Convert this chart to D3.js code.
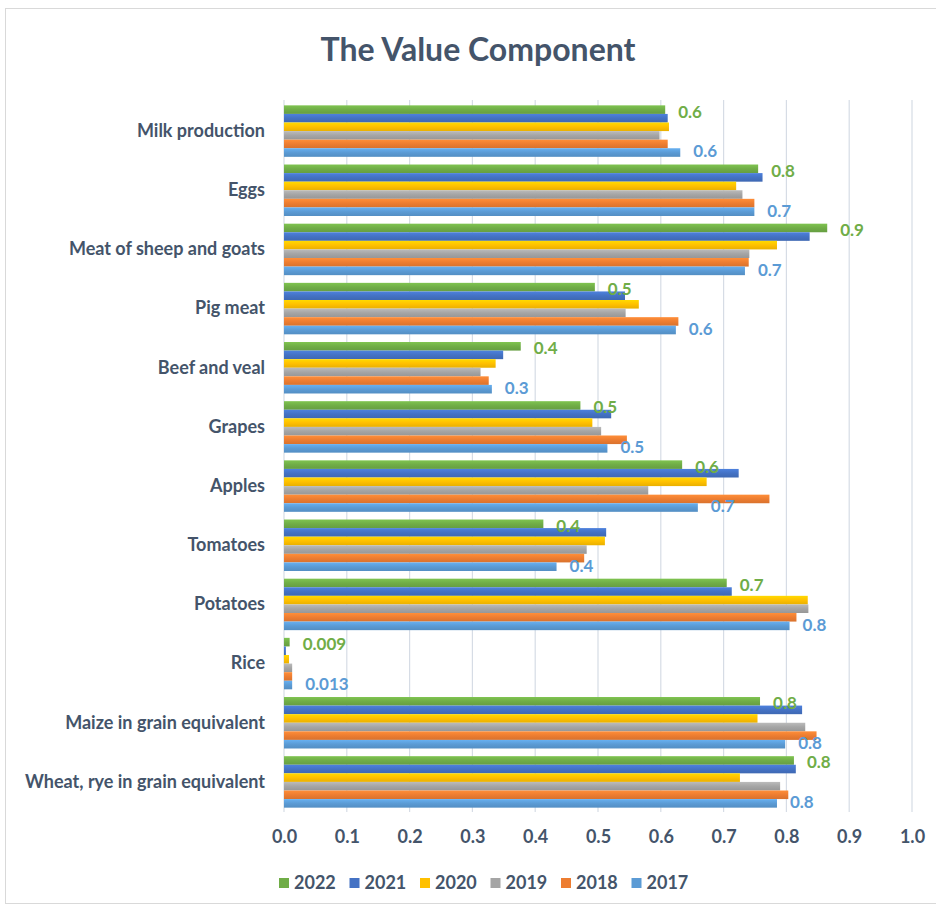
<!DOCTYPE html>
<html>
<head>
<meta charset="utf-8">
<script src="https://cdn.jsdelivr.net/npm/d3@7"></script>
<style>
  html, body { margin: 0; padding: 0; background: #fff; }
  svg { display: block; font-family: Lato, "Open Sans", sans-serif; }
</style>
</head>
<body>
<svg id="chart" width="936" height="910"></svg>
<script>
// Product categories, top to bottom
const categories = [
  "Milk production", "Eggs", "Meat of sheep and goats", "Pig meat",
  "Beef and veal", "Grapes", "Apples", "Tomatoes", "Potatoes", "Rice",
  "Maize in grain equivalent", "Wheat, rye in grain equivalent"
];

// Series order inside each group (top bar first) and legend order
const years = ["2022", "2021", "2020", "2019", "2018", "2017"];

const values2022 = [0.607, 0.755, 0.865, 0.495, 0.377, 0.472, 0.634, 0.413, 0.705, 0.009, 0.758, 0.812];
const values2021 = [0.611, 0.762, 0.837, 0.543, 0.349, 0.521, 0.724, 0.513, 0.713, 0.003, 0.825, 0.815];
const values2020 = [0.613, 0.720, 0.785, 0.565, 0.337, 0.491, 0.673, 0.511, 0.834, 0.008, 0.754, 0.726];
const values2019 = [0.598, 0.730, 0.741, 0.544, 0.313, 0.505, 0.580, 0.482, 0.835, 0.013, 0.830, 0.790];
const values2018 = [0.611, 0.749, 0.740, 0.628, 0.326, 0.546, 0.773, 0.478, 0.816, 0.013, 0.848, 0.803];
const values2017 = [0.631, 0.749, 0.734, 0.624, 0.331, 0.515, 0.659, 0.434, 0.805, 0.013, 0.798, 0.785];

const xTicks = [0, 0.1, 0.2, 0.3, 0.4, 0.5, 0.6, 0.7, 0.8, 0.9, 1.0];

// Series that carry value labels and how each label is formatted
const labelledYears = ["2022", "2017"];
const labelFormat = v => (v < 0.05 ? d3.format(".3f")(v) : d3.format(".1f")(v));

const seriesValues = {
  "2022": values2022, "2021": values2021, "2020": values2020,
  "2019": values2019, "2018": values2018, "2017": values2017
};
const colors = {
  "2022": "#70AD47", "2021": "#4472C4", "2020": "#FFC000",
  "2019": "#A5A5A5", "2018": "#ED7D31", "2017": "#5B9BD5"
};
// Small vertical nudge of each labelled series' text relative to its bar
const labelNudge = { "2022": 2, "2017": -1 };

const textColor = "#44546A";
const fontStack = "Lato, 'Open Sans', sans-serif";
const svg = d3.select("#chart");

// Outer chart frame
svg.append("rect")
  .attr("x", 5.5).attr("y", 8.5)
  .attr("width", 940).attr("height", 895)
  .attr("fill", "#fff")
  .attr("stroke", "#D9D9D9");

// Subtle vertical shading on bars
const defs = svg.append("defs");
years.forEach(y => {
  const c = d3.color(colors[y]);
  const g = defs.append("linearGradient")
    .attr("id", "grad" + y)
    .attr("x1", 0).attr("y1", 0).attr("x2", 0).attr("y2", 1);
  g.append("stop").attr("offset", "0%").attr("stop-color", c.brighter(0.35));
  g.append("stop").attr("offset", "50%").attr("stop-color", c);
  g.append("stop").attr("offset", "100%").attr("stop-color", c.darker(0.25));
});

const x = d3.scaleLinear().domain([0, 1]).range([284, 912]);
const y0 = d3.scaleBand().domain(categories).range([101.5, 811.5])
  .paddingInner(0.13).paddingOuter(0.065);
const y1 = d3.scaleBand().domain(years).range([0, y0.bandwidth()]);

// Title
svg.append("text")
  .attr("x", 478).attr("y", 61)
  .attr("text-anchor", "middle")
  .attr("font-size", 32).attr("font-weight", 700)
  .attr("fill", textColor)
  .text("The Value Component");

// Vertical gridlines
svg.append("g")
  .selectAll("line")
  .data(xTicks)
  .join("line")
  .attr("x1", d => x(d)).attr("x2", d => x(d))
  .attr("y1", 100).attr("y2", 812)
  .attr("stroke", "#D6DCE5").attr("stroke-width", 1.2);

// Bottom axis (labels only)
const xAxis = svg.append("g")
  .attr("transform", "translate(0,812)")
  .call(d3.axisBottom(x).tickValues(xTicks).tickFormat(d3.format(".1f")).tickSize(0).tickPadding(18));
xAxis.select(".domain").remove();
xAxis.selectAll("text")
  .attr("font-family", fontStack)
  .attr("font-size", 18).attr("font-weight", 700)
  .attr("fill", textColor);

// Left axis (category names)
const yAxis = svg.append("g")
  .attr("transform", "translate(265,0)")
  .call(d3.axisLeft(y0).tickSize(0).tickPadding(0));
yAxis.select(".domain").remove();
yAxis.selectAll("text")
  .attr("font-family", fontStack)
  .attr("font-size", 18).attr("font-weight", 700)
  .attr("fill", textColor);

// Bars
const groups = svg.append("g")
  .selectAll("g")
  .data(categories)
  .join("g")
  .attr("transform", d => `translate(0,${y0(d)})`);

groups.selectAll("rect")
  .data((c, i) => years.map(yr => ({ year: yr, value: seriesValues[yr][i] })))
  .join("rect")
  .attr("x", x(0))
  .attr("y", d => y1(d.year))
  .attr("width", d => x(d.value) - x(0))
  .attr("height", y1.bandwidth())
  .attr("fill", d => `url(#grad${d.year})`);

// Value labels for the first and last year
groups.selectAll("text.val")
  .data((c, i) => labelledYears.map(yr => ({ year: yr, value: seriesValues[yr][i] })))
  .join("text")
  .attr("class", "val")
  .attr("x", d => x(d.value) + 13)
  .attr("y", d => y1(d.year) + y1.bandwidth() / 2 + labelNudge[d.year])
  .attr("dy", "0.35em")
  .attr("font-size", 17).attr("font-weight", 700)
  .attr("fill", d => colors[d.year])
  .text(d => labelFormat(d.value));

// Legend
const legend = svg.append("g").attr("transform", "translate(279,883)");
const item = legend.selectAll("g")
  .data(years)
  .join("g")
  .attr("transform", (d, i) => `translate(${i * 70.5},0)`);
item.append("rect")
  .attr("x", 0).attr("y", -5)
  .attr("width", 10).attr("height", 10)
  .attr("fill", d => colors[d]);
item.append("text")
  .attr("x", 15).attr("y", 0).attr("dy", "0.35em")
  .attr("font-size", 18).attr("font-weight", 700)
  .attr("fill", textColor)
  .text(d => d);
</script>
</body>
</html>
